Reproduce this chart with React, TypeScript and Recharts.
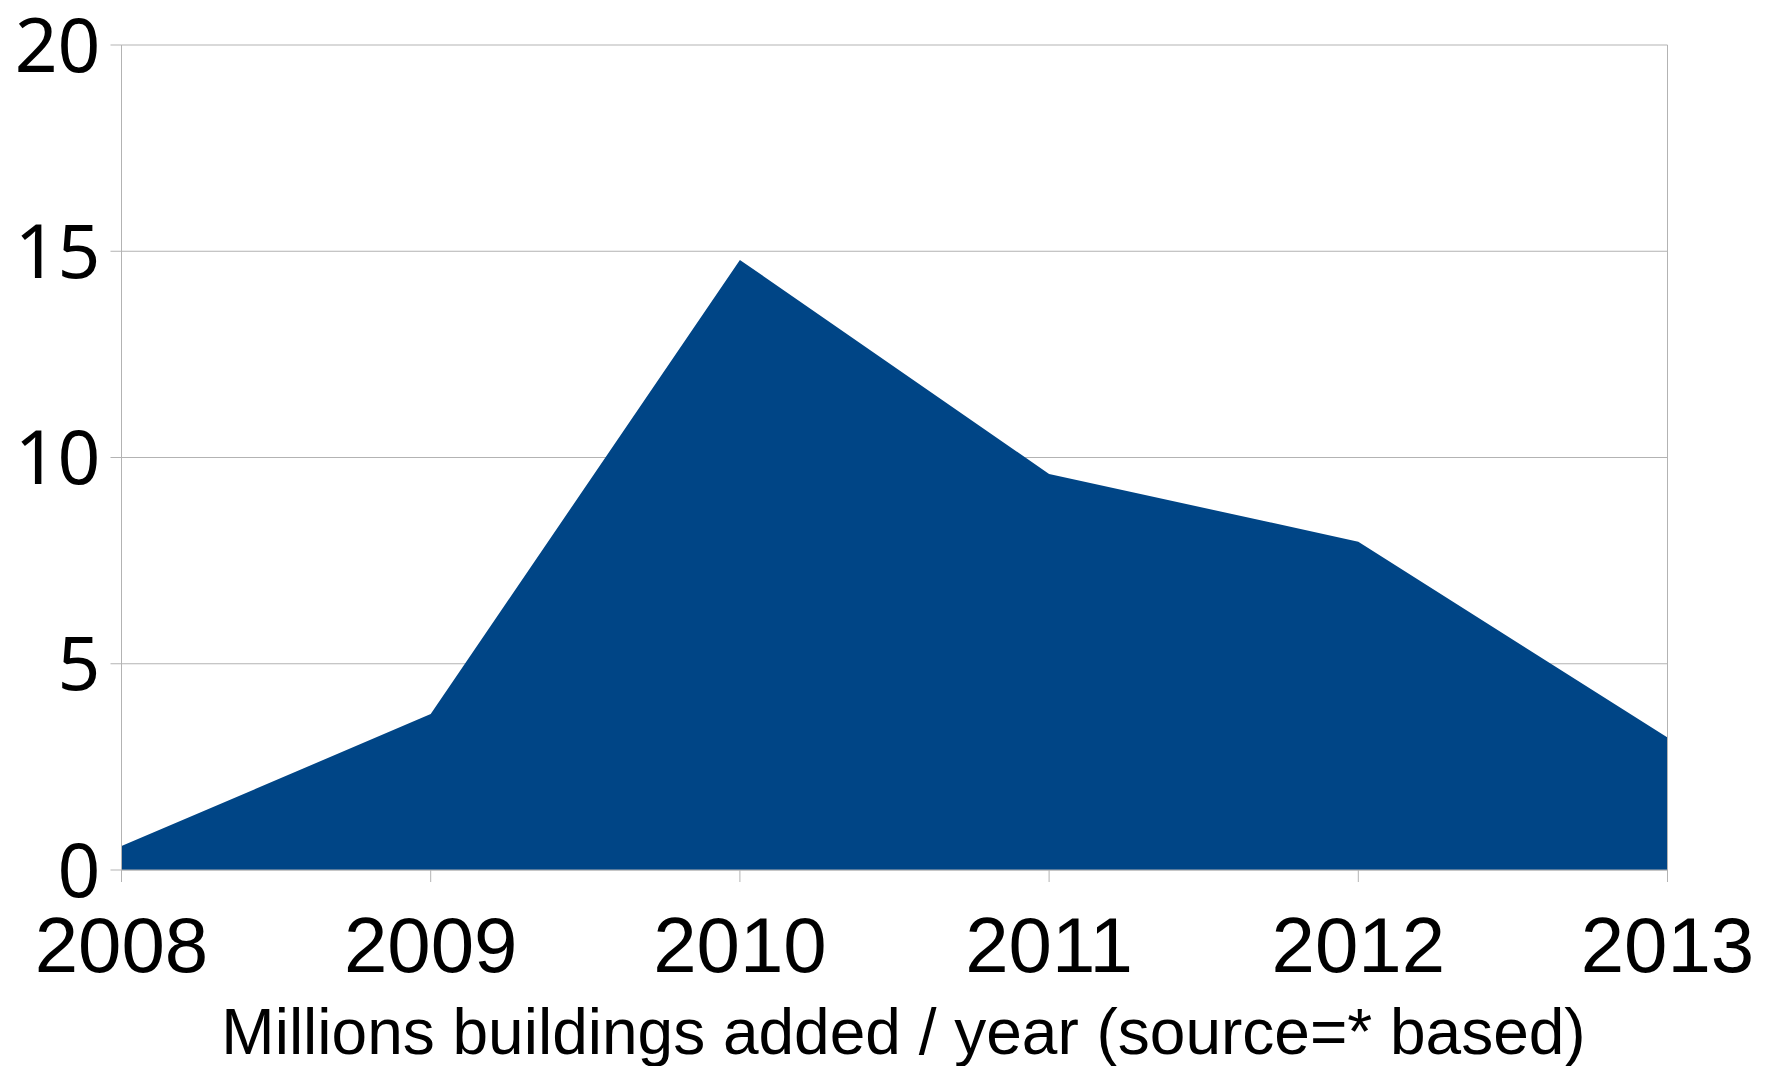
import {
  Area,
  AreaChart,
  CartesianGrid,
  ReferenceLine,
  XAxis,
  YAxis,
} from "recharts";

const years = ["2008", "2009", "2010", "2011", "2012", "2013"];
const buildingsAdded = [0.58, 3.78, 14.79, 9.6, 7.96, 3.21];
const yTicks = [0, 5, 10, 15, 20];

const FONT = "'Liberation Sans', Arial, sans-serif";
const Y_FONT = "'Noto Sans', 'Open Sans', sans-serif";
const GRID = "#b3b3b3";

const chartData = years.map((year, i) => ({
  year,
  buildings: buildingsAdded[i],
}));

interface ViewBox {
  x: number;
  y: number;
  width: number;
  height: number;
}

function TitleLabel({ viewBox }: { viewBox?: ViewBox }) {
  if (!viewBox) return null;
  return (
    <text
      x={viewBox.x + viewBox.width / 2 + 9}
      y={1054}
      textAnchor="middle"
      fontFamily={FONT}
      fontSize={64}
      fill="#000"
    >
      Millions buildings added / year (source=* based)
    </text>
  );
}

export default function App() {
  return (
    <div style={{ position: "absolute", left: 0, top: 0, background: "#fff" }}>
      <AreaChart
        width={1769}
        height={1066}
        data={chartData}
        margin={{ top: 45, right: 101.5, left: 0, bottom: 0 }}
      >
        <CartesianGrid stroke={GRID} vertical={false} />
        <XAxis
          dataKey="year"
          height={196}
          stroke={GRID}
          tickSize={12}
          tickMargin={35}
          tick={{ fontSize: 78, fontFamily: FONT, fill: "#000" }}
          interval={0}
          label={<TitleLabel />}
        />
        <YAxis
          width={121.5}
          domain={[0, 20]}
          ticks={yTicks}
          stroke={GRID}
          tickSize={11}
          tickMargin={10}
          tick={{ fontSize: 75, fontFamily: Y_FONT, fill: "#000" }}
          allowDataOverflow
        />
        <ReferenceLine x="2013" stroke={GRID} />
        <Area
          type="linear"
          dataKey="buildings"
          stroke="none"
          fill="#004586"
          fillOpacity={1}
          dot={false}
          activeDot={false}
          isAnimationActive={false}
        />
      </AreaChart>
    </div>
  );
}
